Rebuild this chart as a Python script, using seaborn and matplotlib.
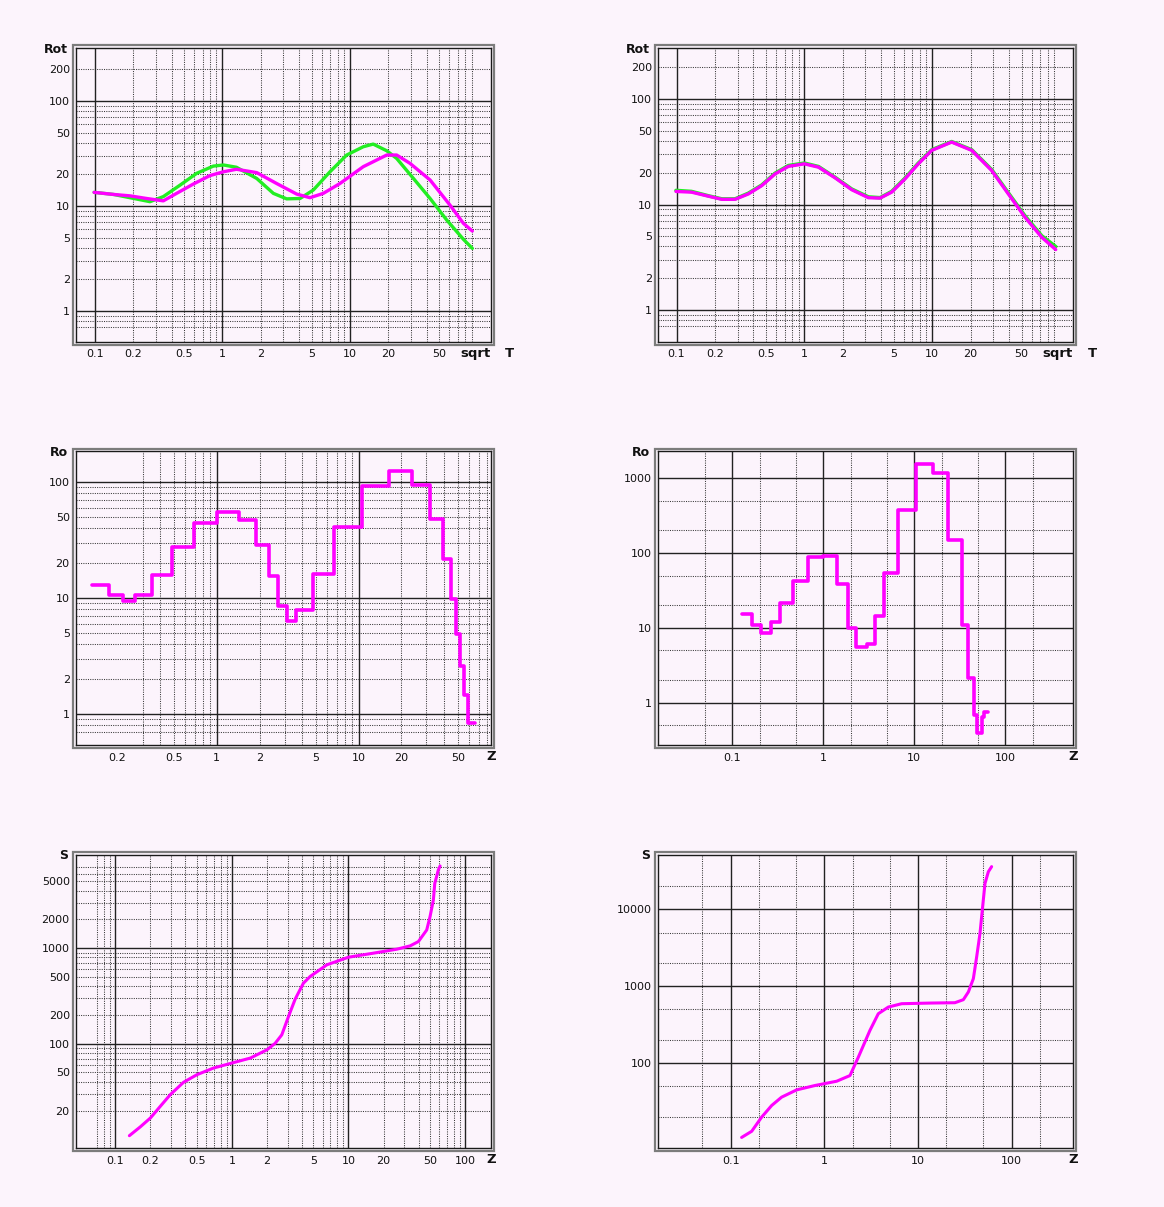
import matplotlib
matplotlib.use("Agg")
import matplotlib.pyplot as plt
from matplotlib.patches import Rectangle
import seaborn as sns

sns.set_style("white")
plt.rcParams['font.family'] = ['DejaVu Sans']

BG = '#fcf4fc'
MAGENTA = '#ff00ff'
GREEN = '#22ee22'

# ---- data ----
# top left: Rot vs sqrt T
rot1_mag_x = [0.099, 0.14, 0.189, 0.255, 0.345, 0.438, 0.593, 0.8, 1.02, 1.29, 1.86, 2.66,
              3.82, 4.86, 6.18, 8.35, 12.7, 19.4, 23.2, 29.5, 42.4, 60.7, 77.3, 90.8]
rot1_mag_y = [13.5, 12.9, 12.5, 11.8, 11.2, 13.2, 16.2, 19.5, 21.2, 22.4, 20.8, 16.4,
              13.0, 12.0, 13.2, 16.4, 23.7, 30.6, 30.6, 25.5, 17.7, 10.2, 6.84, 5.78]
rot1_grn_x = [0.099, 0.14, 0.189, 0.271, 0.345, 0.466, 0.63, 0.85, 1.02, 1.29, 1.86, 2.51, 3.19,
              4.06, 5.16, 6.97, 9.42, 12.7, 15.2, 19.4, 23.2, 31.4, 42.4, 57.2, 77.3, 90.8]
rot1_grn_y = [13.5, 12.9, 12.0, 11.0, 12.3, 15.8, 20.5, 24.0, 24.6, 23.4, 18.3, 13.2, 11.7,
              11.8, 14.2, 21.2, 30.6, 36.7, 38.9, 33.6, 28.4, 18.3, 11.8, 7.36, 4.82, 3.95]

# top right: Rot vs sqrt T (both curves almost on top of each other)
rot2_x = [0.099, 0.131, 0.177, 0.226, 0.287, 0.365, 0.464, 0.59, 0.75, 1.0, 1.29, 1.74, 2.35,
          3.17, 3.91, 4.82, 6.13, 7.79, 9.91, 14.2, 20.4, 29.2, 39.4, 53.2, 71.9, 92.5]
rot2_mag_y = [13.3, 13.1, 12.0, 11.2, 11.2, 12.6, 15.1, 19.5, 23.0, 24.3, 22.6, 17.9, 13.8,
              11.6, 11.5, 13.1, 17.5, 24.3, 32.6, 39.1, 32.6, 21.0, 12.6, 7.58, 4.89, 3.74]
rot2_grn_y = [13.6, 13.3, 12.1, 11.3, 11.3, 12.8, 15.3, 19.8, 23.4, 24.7, 22.9, 18.1, 14.0,
              11.8, 11.6, 13.3, 17.8, 24.7, 33.0, 39.5, 33.0, 21.4, 12.9, 7.8, 5.05, 3.99]

# middle left: Ro vs Z (step)
ro1_edges = [0.133, 0.173, 0.217, 0.267, 0.348, 0.484, 0.692, 1.0, 1.445, 1.896, 2.33, 2.70,
             3.14, 3.63, 4.76, 6.66, 10.6, 16.4, 23.8, 31.7, 39.0, 44.4, 48.1, 51.6, 55.1,
             59.1, 65.9]
ro1_vals = [13.0, 10.6, 9.36, 10.6, 15.8, 27.5, 44.4, 54.6, 46.8, 28.4, 15.4, 8.47, 6.36,
            7.87, 16.0, 41.0, 92.3, 125, 94.8, 47.5, 21.5, 9.8, 4.87, 2.59, 1.47, 0.836]

# middle right: Ro vs Z (step)
ro2_edges = [0.127, 0.163, 0.205, 0.264, 0.334, 0.468, 0.684, 1.0, 1.426, 1.88, 2.29, 2.99,
             3.7, 4.68, 6.67, 10.4, 16.2, 23.6, 33.1, 39.2, 45.6, 48.4, 55, 58.7, 64]
ro2_vals = [15.5, 11.1, 8.67, 12.0, 21.8, 41.9, 88.5, 91.2, 39, 10.1, 5.58, 6.18, 14.4,
            54.1, 378, 1553, 1177, 150, 10.9, 2.15, 0.685, 0.39, 0.65, 0.76]

# bottom left: S vs Z
s1_x = [0.132, 0.164, 0.2, 0.243, 0.296, 0.385, 0.501, 0.697, 1.0, 1.44, 2.0, 2.35, 2.68,
        3.06, 3.49, 4.11, 4.69, 6.52, 10, 16.4, 26, 33.8, 39.8, 46.9, 50.1, 53.5, 55, 59, 61.1]
s1_y = [10.9, 13.5, 16.7, 22.1, 29.3, 39.5, 47.4, 55.7, 62.8, 70.8, 86.5, 101, 124,
        193, 293, 431, 506, 670, 805, 888, 977, 1058, 1174, 1552, 2142, 3200, 4775, 6590, 7260]

# bottom right: S vs Z
s2_x = [0.131, 0.168, 0.214, 0.274, 0.35, 0.507, 0.795, 1.355, 1.88, 2.31, 3.07, 3.77, 4.82,
        6.69, 14, 24.8, 30.5, 34.5, 39, 42.3, 45.9, 47.8, 51.9, 56.4, 61.1]
s2_y = [10.8, 13.0, 19.8, 28.1, 36.1, 44.9, 51.2, 58.2, 69, 120, 267, 440, 537,
        594, 606, 612, 670, 844, 1259, 2414, 4864, 8020, 21800, 31000, 36100]

W, H = 1164, 1207
fig = plt.figure(figsize=(W / 100, H / 100), dpi=100, facecolor=BG)


def times(mults, decades):
    return [m * d for d in decades for m in mults]


def panel(box, xlim, ylim, xticks, yticks, vmaj, vmin, hmaj, hmin, ylabel, xlabel):
    l, t, r, b = box
    ax = fig.add_axes([l / W, 1 - b / H, (r - l) / W, (b - t) / H], facecolor=BG)
    ax.set_xscale('log')
    ax.set_yscale('log')
    ax.set_xlim(*xlim)
    ax.set_ylim(*ylim)
    for v in vmin:
        ax.axvline(v, color='#3a3a3a', lw=0.75, ls=(0, (1, 1.2)), zorder=1)
    for v in hmin:
        ax.axhline(v, color='#3a3a3a', lw=0.75, ls=(0, (1, 1.2)), zorder=1)
    for v in vmaj:
        ax.axvline(v, color='#222222', lw=1.0, zorder=1.2)
    for v in hmaj:
        ax.axhline(v, color='#222222', lw=1.0, zorder=1.2)
    ax.minorticks_off()
    ax.set_xticks(xticks, [f"{v:g}" for v in xticks])
    ax.set_yticks(yticks, [f"{v:g}" for v in yticks])
    ax.tick_params(length=0, labelsize=8, colors='#111111')
    ax.tick_params(axis='x', pad=5.5)
    ax.tick_params(axis='y', pad=4.5)
    for sp in ax.spines.values():
        sp.set_color('#1a1a1a')
        sp.set_linewidth(1.0)
        sp.set_zorder(5)
    # outer grey frame
    fig.add_artist(Rectangle(((l - 3) / W, 1 - (b + 3) / H), (r - l + 6) / W, (b - t + 6) / H,
                             transform=fig.transFigure, fill=False, edgecolor='#7c7c7c', lw=1.6))
    ax.text(-0.02, 0.997, ylabel, transform=ax.transAxes, ha='right', va='center',
            fontsize=9, fontweight='bold', color='#111111')
    if xlabel == 'sqrt T':
        ax.text(0.926, -0.04, 'sqrt', transform=ax.transAxes, ha='left', va='center',
                fontsize=9.5, fontweight='bold', color='#111111')
        ax.text(1.045, -0.04, 'T', transform=ax.transAxes, ha='center', va='center',
                fontsize=9.5, fontweight='bold', color='#111111')
    else:
        ax.text(1.0, -0.04, xlabel, transform=ax.transAxes, ha='center', va='center',
                fontsize=9.5, fontweight='bold', color='#111111')
    return ax


dec3 = [0.1, 1, 10]
m29 = [2, 3, 4, 5, 6, 7, 8, 9]
cols = [(76, 490.7), (658.3, 1073.3)]
rows = [(48.3, 341.7), (451.5, 745), (855, 1148)]

rot_x_ticks = [0.1, 0.2, 0.5, 1, 2, 5, 10, 20, 50]
rot_y_ticks = [1, 2, 5, 10, 20, 50, 100, 200]
rot_hmin = [0.7, 0.8, 0.9] + times(m29, [1, 10]) + [200]

# top left
ax = panel((cols[0][0], rows[0][0], cols[0][1], rows[0][1]), (0.0714, 126.5), (0.51, 318),
           rot_x_ticks, rot_y_ticks, dec3, times(m29, dec3), [1, 10, 100], rot_hmin, 'Rot', 'sqrt T')
sns.lineplot(x=rot1_grn_x, y=rot1_grn_y, ax=ax, color=GREEN, lw=2.4, sort=False, estimator=None, zorder=3)
sns.lineplot(x=rot1_mag_x, y=rot1_mag_y, ax=ax, color=MAGENTA, lw=2.4, sort=False, estimator=None, zorder=4)

# top right
ax = panel((cols[1][0], rows[0][0], cols[1][1], rows[0][1]), (0.072, 127), (0.5, 303),
           rot_x_ticks, rot_y_ticks, dec3, times(m29, dec3), [1, 10, 100], rot_hmin, 'Rot', 'sqrt T')
sns.lineplot(x=rot2_x, y=rot2_grn_y, ax=ax, color=GREEN, lw=2.6, sort=False, estimator=None, zorder=3)
sns.lineplot(x=rot2_x, y=rot2_mag_y, ax=ax, color=MAGENTA, lw=2.4, sort=False, estimator=None, zorder=4)

# middle left
ax = panel((cols[0][0], rows[1][0], cols[0][1], rows[1][1]), (0.102, 85), (0.54, 183),
           [0.2, 0.5, 1, 2, 5, 10, 20, 50], [1, 2, 5, 10, 20, 50, 100],
           [1, 10], times(m29, dec3)[1:], [1, 10, 100],
           [0.7, 0.8, 0.9] + times(m29, [1, 10]), 'Ro', 'Z')
sns.lineplot(x=ro1_edges, y=ro1_vals + ro1_vals[-1:], ax=ax, color=MAGENTA, lw=2.6,
             sort=False, estimator=None, drawstyle='steps-post', zorder=4)

# middle right
sparse_v = [0.05, 0.2, 0.5, 2, 5, 20, 50, 200]
ax = panel((cols[1][0], rows[1][0], cols[1][1], rows[1][1]), (0.0154, 559), (0.273, 2268),
           [0.1, 1, 10, 100], [1, 10, 100, 1000],
           [0.1, 1, 10, 100], sparse_v, [1, 10, 100, 1000],
           [0.5, 2, 5, 20, 50, 200, 500], 'Ro', 'Z')
sns.lineplot(x=ro2_edges, y=ro2_vals + ro2_vals[-1:], ax=ax, color=MAGENTA, lw=2.6,
             sort=False, estimator=None, drawstyle='steps-post', zorder=4)

# bottom left
ax = panel((cols[0][0], rows[2][0], cols[0][1], rows[2][1]), (0.046, 166), (8.1, 9460),
           [0.1, 0.2, 0.5, 1, 2, 5, 10, 20, 50, 100], [20, 50, 100, 200, 500, 1000, 2000, 5000],
           [0.1, 1, 10, 100], [0.07, 0.08, 0.09] + times(m29, dec3), [100, 1000],
           times(m29, [10, 100]) + [2000, 3000, 4000, 5000, 6000, 7000], 'S', 'Z')
sns.lineplot(x=s1_x, y=s1_y, ax=ax, color=MAGENTA, lw=2.2, sort=False, estimator=None, zorder=4)

# bottom right
ax = panel((cols[1][0], rows[2][0], cols[1][1], rows[2][1]), (0.0169, 455), (7.87, 51170),
           [0.1, 1, 10, 100], [100, 1000, 10000],
           [0.1, 1, 10, 100], sparse_v, [100, 1000, 10000],
           [20, 50, 200, 500, 2000, 5000, 20000], 'S', 'Z')
sns.lineplot(x=s2_x, y=s2_y, ax=ax, color=MAGENTA, lw=2.2, sort=False, estimator=None, zorder=4)

fig.savefig('out.png', dpi=100, facecolor=BG)
